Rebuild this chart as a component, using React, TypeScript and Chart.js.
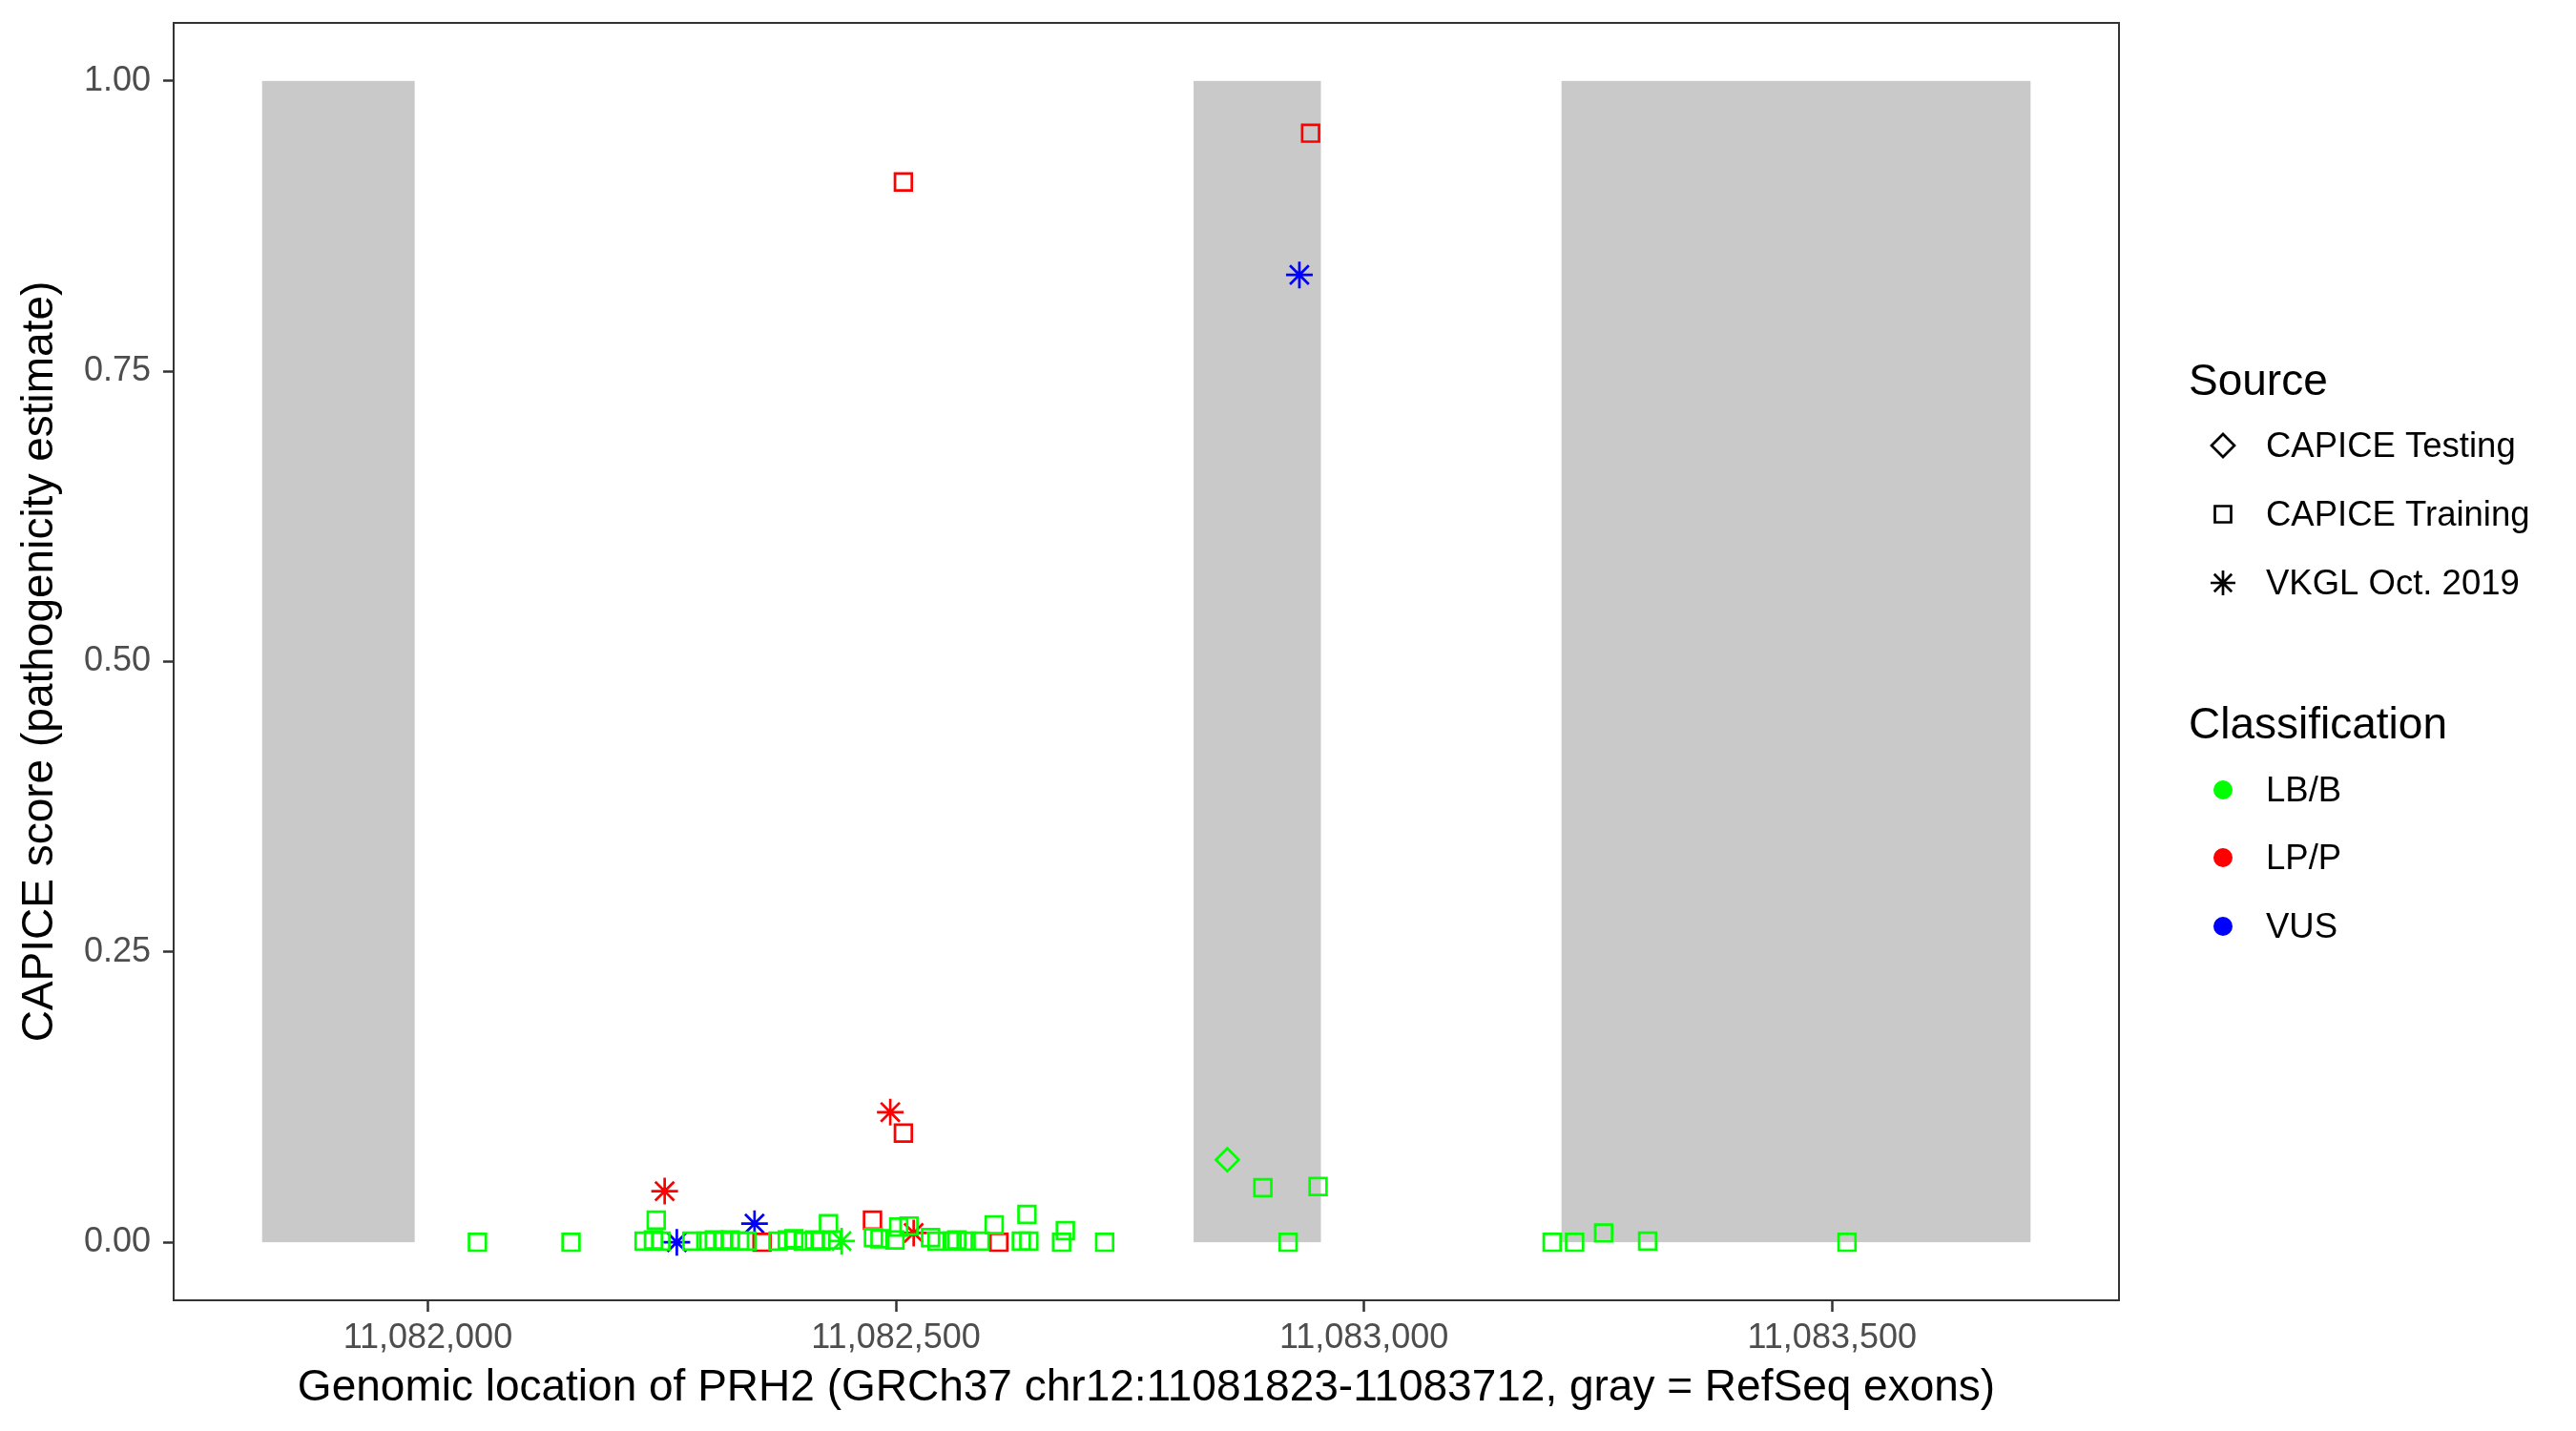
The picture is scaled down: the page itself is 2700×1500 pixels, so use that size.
import React, { useEffect, useRef } from 'react';
import { Chart, registerables } from 'chart.js';

Chart.register(...registerables);

const FONT = "'Liberation Sans', Arial, Helvetica, sans-serif";

// RefSeq exons (gray rectangles), genomic start / end
const exonStarts = [11081823, 11082818, 11083211];
const exonEnds = [11081986, 11082954, 11083712];

// Axis ticks
const xTicks = [11082000, 11082500, 11083000, 11083500];
const yTicks = [0, 0.25, 0.5, 0.75, 1.0];

// CAPICE Training, LB/B
const trainBenignPos = [
  11082053, 11082153, 11082231, 11082241, 11082244, 11082249, 11082282, 11082297,
  11082306, 11082316, 11082323, 11082333, 11082341, 11082374, 11082384, 11082391,
  11082401, 11082413, 11082420, 11082428, 11082432, 11082476, 11082483, 11082499,
  11082503, 11082514, 11082537, 11082544, 11082560, 11082565, 11082575, 11082590,
  11082605, 11082634, 11082640, 11082642, 11082677, 11082681, 11082723, 11082892,
  11082919, 11082951, 11083201, 11083225, 11083256, 11083303, 11083516,
];
const trainBenignScore = [
  0.0, 0.0, 0.001, 0.002, 0.019, 0.001, 0.001, 0.001,
  0.002, 0.001, 0.002, 0.001, 0.001, 0.001, 0.002, 0.003,
  0.001, 0.002, 0.001, 0.016, 0.002, 0.004, 0.003, 0.002,
  0.013, 0.014, 0.004, 0.001, 0.001, 0.002, 0.001, 0.001,
  0.015, 0.001, 0.024, 0.001, 0.0, 0.01, 0.0, 0.047,
  0.0, 0.048, 0.0, 0.0, 0.008, 0.001, 0.0,
];

// CAPICE Training, LP/P
const trainPathoPos = [11082357, 11082475, 11082508, 11082508, 11082610, 11082943];
const trainPathoScore = [0.0, 0.019, 0.094, 0.913, 0.0, 0.955];

// CAPICE Testing, LB/B
const testBenignPos = [11082854];
const testBenignScore = [0.071];

// VKGL Oct. 2019
const vkglBenignPos = [11082442];
const vkglBenignScore = [0.001];
const vkglPathoPos = [11082253, 11082494, 11082519];
const vkglPathoScore = [0.044, 0.112, 0.008];
const vkglVusPos = [11082266, 11082349, 11082931];
const vkglVusScore = [0.0, 0.016, 0.833];

const sourceLabels = ['CAPICE Testing', 'CAPICE Training', 'VKGL Oct. 2019'];
const classLabels = ['LB/B', 'LP/P', 'VUS'];
const classColors = ['#00FF00', '#FF0000', '#0000FF'];

const X_MIN = 11081728.5;
const X_MAX = 11083806.5;
const Y_MIN = -0.05;
const Y_MAX = 1.05;

const SQ_R = 12.5;
const DIA_R = 12;
const STAR_R = 14;
const LW = 2.7;

const zip = (xs: number[], ys: number[]) => xs.map((x, i) => ({ x, y: ys[i] }));

function fmtThousands(v: number): string {
  const s = String(Math.round(v));
  return s.replace(/\B(?=(\d{3})+(?!\d))/g, ',');
}

function mkDataset(label: string, pos: number[], score: number[], color: string, style: string, r: number) {
  return {
    label,
    data: zip(pos, score),
    pointStyle: style,
    pointRadius: r,
    pointHoverRadius: r,
    pointBorderWidth: LW,
    borderColor: color,
    pointBorderColor: color,
    backgroundColor: 'rgba(0,0,0,0)',
    pointBackgroundColor: 'rgba(0,0,0,0)',
    showLine: false,
    clip: false as any,
  };
}

function drawMarker(ctx: CanvasRenderingContext2D, style: string, x: number, y: number, r: number) {
  ctx.beginPath();
  if (style === 'rectRot') {
    ctx.moveTo(x - r, y);
    ctx.lineTo(x, y - r);
    ctx.lineTo(x + r, y);
    ctx.lineTo(x, y + r);
    ctx.closePath();
  } else if (style === 'rect') {
    const s = Math.SQRT1_2 * r;
    ctx.rect(x - s, y - s, 2 * s, 2 * s);
  } else if (style === 'star') {
    ctx.moveTo(x - r, y);
    ctx.lineTo(x + r, y);
    ctx.moveTo(x, y - r);
    ctx.lineTo(x, y + r);
    const d = r * Math.SQRT1_2;
    ctx.moveTo(x - d, y - d);
    ctx.lineTo(x + d, y + d);
    ctx.moveTo(x - d, y + d);
    ctx.lineTo(x + d, y - d);
  }
  ctx.stroke();
}

const decorPlugin = {
  id: 'decor',
  beforeDatasetsDraw(chart: any) {
    const { ctx, scales } = chart;
    const xs = scales.x;
    const ys = scales.y;
    ctx.save();
    ctx.fillStyle = '#C9C9C9';
    for (let i = 0; i < exonStarts.length; i++) {
      const x0 = xs.getPixelForValue(exonStarts[i]);
      const x1 = xs.getPixelForValue(exonEnds[i]);
      const y0 = ys.getPixelForValue(1);
      const y1 = ys.getPixelForValue(0);
      ctx.fillRect(x0, y0, x1 - x0, y1 - y0);
    }
    ctx.restore();
  },
  afterDraw(chart: any) {
    const { ctx, chartArea } = chart;
    ctx.save();
    // panel border
    ctx.strokeStyle = '#333333';
    ctx.lineWidth = 2;
    ctx.strokeRect(chartArea.left, chartArea.top, chartArea.right - chartArea.left, chartArea.bottom - chartArea.top);

    // axis titles
    ctx.fillStyle = '#000000';
    ctx.font = `46px ${FONT}`;
    ctx.textAlign = 'center';
    ctx.textBaseline = 'alphabetic';
    ctx.fillText(
      'Genomic location of PRH2 (GRCh37 chr12:11081823-11083712, gray = RefSeq exons)',
      (chartArea.left + chartArea.right) / 2,
      1468
    );
    ctx.save();
    ctx.translate(55, (chartArea.top + chartArea.bottom) / 2);
    ctx.rotate(-Math.PI / 2);
    ctx.fillText('CAPICE score (pathogenicity estimate)', 0, 0);
    ctx.restore();

    // legend
    const lx = 2294;
    const kx = 2330;
    const tx = 2375;
    ctx.textAlign = 'left';
    ctx.textBaseline = 'middle';
    ctx.font = `46px ${FONT}`;
    ctx.fillText('Source', lx, 401);
    ctx.fillText('Classification', lx, 761);

    const srcStyles = ['rectRot', 'rect', 'star'];
    const srcR = [12, 12, 13];
    const srcY = [467, 539, 611];
    ctx.font = `36.5px ${FONT}`;
    ctx.strokeStyle = '#000000';
    ctx.lineWidth = LW;
    for (let i = 0; i < sourceLabels.length; i++) {
      drawMarker(ctx, srcStyles[i], kx, srcY[i], srcR[i]);
      ctx.fillStyle = '#000000';
      ctx.fillText(sourceLabels[i], tx, srcY[i] + 2);
    }
    const clsY = [828, 899, 971];
    for (let i = 0; i < classLabels.length; i++) {
      ctx.beginPath();
      ctx.fillStyle = classColors[i];
      ctx.arc(kx, clsY[i], 10, 0, Math.PI * 2);
      ctx.fill();
      ctx.fillStyle = '#000000';
      ctx.fillText(classLabels[i], tx, clsY[i] + 2);
    }
    ctx.restore();
  },
};

export default function App() {
  const ref = useRef<HTMLCanvasElement | null>(null);

  useEffect(() => {
    document.body.style.margin = '0';
    document.body.style.overflow = 'hidden';
    const canvas = ref.current;
    if (!canvas) return;

    const datasets = [
      mkDataset('CAPICE Training LB/B', trainBenignPos, trainBenignScore, classColors[0], 'rect', SQ_R),
      mkDataset('CAPICE Testing LB/B', testBenignPos, testBenignScore, classColors[0], 'rectRot', DIA_R),
      mkDataset('VKGL LB/B', vkglBenignPos, vkglBenignScore, classColors[0], 'star', STAR_R),
      mkDataset('CAPICE Training LP/P', trainPathoPos, trainPathoScore, classColors[1], 'rect', SQ_R),
      mkDataset('VKGL LP/P', vkglPathoPos, vkglPathoScore, classColors[1], 'star', STAR_R),
      mkDataset('VKGL VUS', vkglVusPos, vkglVusScore, classColors[2], 'star', STAR_R),
    ];

    const tickFont = { family: FONT, size: 36 };

    const chart = new Chart(canvas, {
      type: 'scatter',
      data: { datasets: datasets as any },
      options: {
        animation: false,
        responsive: false,
        devicePixelRatio: 1,
        events: [],
        layout: { padding: { top: 24, right: 479, bottom: 0, left: 0 } },
        plugins: {
          legend: { display: false },
          tooltip: { enabled: false },
          title: { display: false },
        },
        scales: {
          x: {
            type: 'linear',
            min: X_MIN,
            max: X_MAX,
            afterBuildTicks: (scale: any) => {
              scale.ticks = xTicks.map((v) => ({ value: v }));
            },
            afterFit: (scale: any) => {
              scale.height = 137;
              scale.paddingLeft = 0;
              scale.paddingRight = 0;
            },
            ticks: {
              color: '#4D4D4D',
              font: tickFont,
              padding: 6,
              maxRotation: 0,
              autoSkip: false,
              callback: (v: any) => fmtThousands(Number(v)),
            },
            grid: {
              display: true,
              drawOnChartArea: false,
              drawTicks: true,
              tickLength: 12,
              tickWidth: 2.5,
              tickColor: '#333333',
            },
            border: { display: false },
          },
          y: {
            type: 'linear',
            min: Y_MIN,
            max: Y_MAX,
            afterBuildTicks: (scale: any) => {
              scale.ticks = yTicks.map((v) => ({ value: v }));
            },
            afterFit: (scale: any) => {
              scale.width = 182;
              scale.paddingTop = 0;
              scale.paddingBottom = 0;
            },
            ticks: {
              color: '#4D4D4D',
              font: tickFont,
              padding: 13,
              autoSkip: false,
              callback: (v: any) => Number(v).toFixed(2),
            },
            grid: {
              display: true,
              drawOnChartArea: false,
              drawTicks: true,
              tickLength: 11,
              tickWidth: 2.5,
              tickColor: '#333333',
            },
            border: { display: false },
          },
        },
      } as any,
      plugins: [decorPlugin],
    });

    return () => chart.destroy();
  }, []);

  return (
    <div style={{ width: 2700, height: 1500, background: '#FFFFFF' }}>
      <canvas ref={ref} width={2700} height={1500} style={{ display: 'block', width: 2700, height: 1500 }} />
    </div>
  );
}
